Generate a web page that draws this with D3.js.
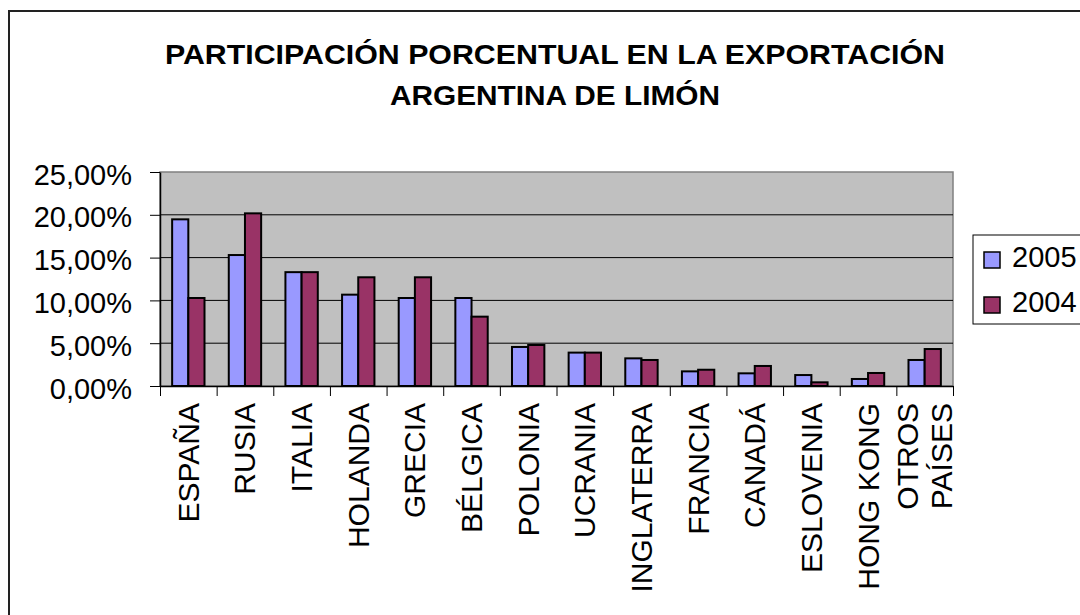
<!DOCTYPE html>
<html>
<head>
<meta charset="utf-8">
<script src="https://cdn.jsdelivr.net/npm/d3@7"></script>
<style>
  html, body { margin: 0; padding: 0; background: #fff; }
  svg { display: block; font-family: "Liberation Sans", Arial, sans-serif; }
</style>
</head>
<body>
<svg id="chart" width="1080" height="615"></svg>
<script>
// ── Data ────────────────────────────────────────────────────────────────────
const COUNTRIES = ['ESPAÑA', 'RUSIA', 'ITALIA', 'HOLANDA', 'GRECIA', 'BÉLGICA', 'POLONIA',
  'UCRANIA', 'INGLATERRA', 'FRANCIA', 'CANADÁ', 'ESLOVENIA', 'HONG KONG', 'OTROS PAÍSES'];
const SERIES = ['2005', '2004'];
const VALUES_2005 = [0.1947, 0.1530, 0.1330, 0.1067, 0.1028, 0.1028, 0.0456,
  0.0390, 0.0323, 0.0171, 0.0148, 0.0128, 0.0082, 0.0304];
const VALUES_2004 = [0.1028, 0.2017, 0.1330, 0.1270, 0.1270, 0.0810, 0.0479,
  0.0390, 0.0304, 0.0190, 0.0234, 0.0043, 0.0152, 0.0432];
const Y_TICKS = [0, 0.05, 0.10, 0.15, 0.20, 0.25];
const TITLE_LINES = ['PARTICIPACIÓN PORCENTUAL EN LA EXPORTACIÓN', 'ARGENTINA DE LIMÓN'];

const COLORS = { '2005': '#9999FF', '2004': '#993366' };

const rows = COUNTRIES.map((c, i) => ({ c, '2005': VALUES_2005[i], '2004': VALUES_2004[i] }));

// ── Layout ──────────────────────────────────────────────────────────────────
const plot = { left: 160, right: 953, top: 172, bottom: 386 };
const svg = d3.select('#chart');

// outer chart border (runs off the right/bottom edge)
svg.append('rect')
  .attr('x', 9).attr('y', 11).attr('width', 1100).attr('height', 700)
  .attr('fill', '#fff').attr('stroke', '#222').attr('stroke-width', 2);

// title (the original is set a little wider than the font's natural width)
const titleWidths = [780, 330];
svg.append('g').selectAll('text').data(TITLE_LINES).join('text')
  .attr('x', 555)
  .attr('y', (d, i) => 64 + i * 41)
  .attr('text-anchor', 'middle')
  .attr('textLength', (d, i) => titleWidths[i])
  .attr('lengthAdjust', 'spacingAndGlyphs')
  .style('font-size', '28px').style('font-weight', '700')
  .text(d => d);

const x0 = d3.scaleBand().domain(COUNTRIES).range([plot.left, plot.right]);
const barW = x0.bandwidth() / 3.5; // gap width 150%
const x1 = d3.scaleBand().domain(SERIES).range([0, barW * 2]);
const y = d3.scaleLinear().domain([0, 0.25]).range([plot.bottom, plot.top]);

// plot background
svg.append('rect')
  .attr('x', plot.left).attr('y', plot.top)
  .attr('width', plot.right - plot.left).attr('height', plot.bottom - plot.top)
  .attr('fill', '#C0C0C0').attr('stroke', '#808080').attr('stroke-width', 1.5);

// gridlines
svg.append('g').selectAll('line').data(Y_TICKS.slice(1, -1)).join('line')
  .attr('x1', plot.left).attr('x2', plot.right)
  .attr('y1', d => y(d)).attr('y2', d => y(d))
  .attr('stroke', '#000').attr('stroke-width', 1);

// bars
const groups = svg.append('g').selectAll('g').data(rows).join('g')
  .attr('transform', d => `translate(${x0(d.c) + (x0.bandwidth() - barW * 2) / 2},0)`);
groups.selectAll('rect').data(d => SERIES.map(s => ({ s, v: d[s] }))).join('rect')
  .attr('x', d => x1(d.s))
  .attr('width', x1.bandwidth())
  .attr('y', d => y(d.v))
  .attr('height', d => y(0) - y(d.v))
  .attr('fill', d => COLORS[d.s])
  .attr('stroke', '#000').attr('stroke-width', 2);

// y axis
const locale = d3.formatLocale({ decimal: ',', thousands: '.', grouping: [3], currency: ['', '€'] });
const pct = locale.format('.2%');
const yAxis = svg.append('g')
  .attr('transform', `translate(${plot.left},0)`)
  .call(d3.axisLeft(y).tickValues(Y_TICKS).tickSize(10).tickSizeOuter(0).tickPadding(18).tickFormat(pct));
yAxis.select('.domain').attr('stroke', '#000').attr('stroke-width', 1.5);
yAxis.selectAll('line').attr('stroke', '#000');
yAxis.selectAll('text')
  .attr('dy', '0.42em')
  .attr('fill', '#000')
  .style('font-size', '29px').style('font-family', '"Liberation Sans", Arial, sans-serif');

// x axis: boundary ticks
const xb = d3.scaleLinear().domain([0, COUNTRIES.length]).range([plot.left, plot.right]);
const xTicks = svg.append('g')
  .attr('transform', `translate(0,${plot.bottom})`)
  .call(d3.axisBottom(xb).ticks(COUNTRIES.length).tickSize(10).tickSizeOuter(0).tickFormat(''));
xTicks.select('.domain').attr('stroke', '#000').attr('stroke-width', 1.5);
xTicks.selectAll('line').attr('stroke', '#000');

// x axis: category labels
const xLabels = svg.append('g')
  .attr('transform', `translate(0,${plot.bottom})`)
  .call(d3.axisBottom(x0).tickSize(0).tickFormat(''));
xLabels.select('.domain').remove();
xLabels.selectAll('.tick').each(function (d) {
  const words = d === 'OTROS PAÍSES' ? ['OTROS', 'PAÍSES'] : [d];
  const t = d3.select(this).append('text')
    .attr('transform', 'rotate(-90)')
    .attr('text-anchor', 'end')
    .attr('fill', '#000')
    .style('font-size', '30px');
  t.selectAll('tspan').data(words).join('tspan')
    .attr('x', -17)
    .attr('y', (w, i) => (i - (words.length - 1) / 2) * 34)
    .attr('dy', '0.35em')
    .text(w => w);
});

// legend
const lg = svg.append('g');
lg.append('rect')
  .attr('x', 973).attr('y', 235).attr('width', 140).attr('height', 89)
  .attr('fill', '#fff').attr('stroke', '#000').attr('stroke-width', 1);
const items = lg.selectAll('g.item').data(SERIES).join('g')
  .attr('class', 'item')
  .attr('transform', (d, i) => `translate(984,${252 + i * 45})`);
items.append('rect')
  .attr('width', 16).attr('height', 16)
  .attr('fill', d => COLORS[d]).attr('stroke', '#000').attr('stroke-width', 1.5);
items.append('text')
  .attr('x', 28).attr('y', 15)
  .style('font-size', '29px')
  .text(d => d);
</script>
</body>
</html>
